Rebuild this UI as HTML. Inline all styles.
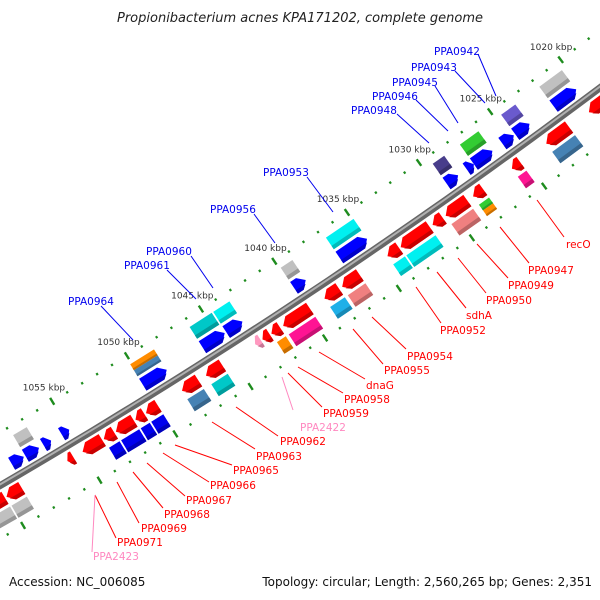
<!DOCTYPE html>
<html><head><meta charset="utf-8"><style>
html,body{margin:0;padding:0;background:#fff}
svg{display:block;font-family:"DejaVu Sans","Liberation Sans",sans-serif}
</style></head><body>
<svg id="map" width="600" height="600" viewBox="0 0 600 600" xmlns="http://www.w3.org/2000/svg">
<text x="300" y="22" text-anchor="middle" font-size="13" font-style="italic" fill="#222">Propionibacterium acnes KPA171202, complete genome</text>
<g id="plot"></g>
<text x="9" y="586" font-size="12" fill="#111">Accession: NC_006085</text>
<text x="592" y="586" font-size="12" fill="#111" text-anchor="end">Topology: circular; Length: 2,560,265 bp; Genes: 2,351</text>
</svg>
<script>
// ---- data ----
const fwdStarts = [1020.3,1023.6,1024.7,1026.2,1027.5,1028.6,1034.9,1039.1,1043.4,1044.6,1048.5,1055.0,1056.2,1057.0,1058.0];
const fwdEnds   = [1021.9,1024.6,1025.5,1027.5,1028.0,1029.4,1036.8,1039.9,1044.5,1046.1,1050.1,1055.5,1056.7,1057.9,1058.8];
const fwdCogs   = ['gray','purple','','green','','slate','cyan','gray','cyan','cyan2','orange/steel','','','gray',''];
const revStarts = [1019.0,1021.9,1025.3,1027.9,1029.0,1030.7,1031.6,1033.7,1036.4,1037.8,1039.8,1041.8,1042.5,1043.1,1045.7,1047.3,1050.0,1050.9,1051.6,1052.9,1053.7,1055.6,1059.0,1060.1];
const revEnds   = [1020.5,1023.5,1025.9,1028.6,1030.5,1031.4,1033.6,1034.5,1037.6,1038.8,1041.6,1042.4,1043.0,1043.5,1046.8,1048.4,1050.8,1051.5,1052.8,1053.6,1055.0,1056.0,1060.0,1061.2];
const revCogs   = ['','steel','magenta','green/orange','salmon','','cyan','cyan','salmon','sky','magenta','orange','','','cyan2','steel','blue','blue','blue','blue','','','gray','gray'];
const revPseudo = [13];
const tickStart = 1016, tickEnd = 1063;
const tickLabels = [1020,1025,1030,1035,1040,1045,1050,1055];

const cogColor = {gray:'#c0c0c0',purple:'#6a5acd',green:'#33cc33',slate:'#483d8b',cyan:'#00f0f0',cyan2:'#00c8c8',
  orange:'#ff8c00',steel:'#4682b4',magenta:'#ff1493',salmon:'#f08080',sky:'#1fb0e8',blue:'#0000ee'};

// ---- geometry ----
const CX=-3076, CY=-4804, R0=6119, PHI0=54.04, DEG_PER_KBP=0.1652;
function P(k,off){const f=(PHI0+(k-1025)*DEG_PER_KBP)*Math.PI/180;const r=R0+off;return [CX+r*Math.cos(f),CY+r*Math.sin(f)];}
const NS='http://www.w3.org/2000/svg';
const plot=document.getElementById('plot');
function mk(tag,attrs,parent){const e=document.createElementNS(NS,tag);for(const a in attrs)e.setAttribute(a,attrs[a]);(parent||plot).appendChild(e);return e;}
function pts(a){return a.map(p=>p[0].toFixed(1)+','+p[1].toFixed(1)).join(' ');}
function shade(hex,f){const n=parseInt(hex.slice(1),16);let r=n>>16,g=(n>>8)&255,b=n&255;
  r=Math.round(Math.min(255,r*f));g=Math.round(Math.min(255,g*f));b=Math.round(Math.min(255,b*f));return `rgb(${r},${g},${b})`;}

// ticks
const tickG=mk('g',{});


for(let k=tickStart;k<=tickEnd;k++){
  for(const off of [-46,46]){
    if(k%5===0){const a=P(k,off-4),b=P(k,off+4);
      const l=mk('line',{x1:a[0],y1:a[1],x2:b[0],y2:b[1],stroke:'#1e8c1e','stroke-width':2.4},tickG);
      
      
    }else{const a=P(k,off-1.2),b=P(k,off+1.2);
      const l=mk('line',{x1:a[0],y1:a[1],x2:b[0],y2:b[1],stroke:'#1e8c1e','stroke-width':2.2},tickG);
      
      }
  }
}
tickLabels.forEach(k=>{const p=P(k,-62);
  const t=mk('text',{x:p[0],y:p[1]+3,'text-anchor':'middle','font-size':9,fill:'#333'});
  t.textContent=k+' kbp';
  
  });

// backbone
(function(){const d=[];for(let k=1010;k<=1068;k+=1){d.push(P(k,0));}
  const a=mk('polyline',{points:pts(d),fill:'none',stroke:'#666','stroke-width':7});
  
  
  const d2=[];for(let k=1010;k<=1068;k+=1){d2.push(P(k,-1));}
  const b=mk('polyline',{points:pts(d2),fill:'none',stroke:'#b0b0b0','stroke-width':2});
  
  })();

const H=14;
function box(s,e,off,h,color,name){
  const poly=[P(s,off-h/2),P(e,off-h/2),P(e,off+h/2),P(s,off+h/2)];
  const g=mk('polygon',{points:pts(poly),fill:color});
  
  
  const sh=Math.min(4,h*0.3);
  const st=[P(s,off+h/2-sh),P(e,off+h/2-sh),P(e,off+h/2),P(s,off+h/2)];
  const g2=mk('polygon',{points:pts(st),fill:shade(color,0.78)});
  
  
}
function arrow(s,e,off,h,dir,color,name){
  const a=Math.min(0.4,(e-s)*0.6);let poly;
  if(dir>0) poly=[P(s,off),P(s+a,off-h/2),P(e,off-h/2),P(e,off+h/2),P(s+a,off+h/2)];
  else poly=[P(e,off),P(e-a,off-h/2),P(s,off-h/2),P(s,off+h/2),P(e-a,off+h/2)];
  const g=mk('polygon',{points:pts(poly),fill:color});
  
  
  let st;
  if(dir>0) st=[P(s+a*0.3,off+h/2-4),P(e,off+h/2-4),P(e,off+h/2),P(s+a,off+h/2)];
  else st=[P(e-a*0.3,off+h/2-4),P(s,off+h/2-4),P(s,off+h/2),P(e-a,off+h/2)];
  const g2=mk('polygon',{points:pts(st),fill:shade(color,0.78)});
  
  
}
function cog(s,e,off,c,name){
  if(!c)return;
  const parts=c.split('/');
  if(parts.length===1){box(s,e,off,H,cogColor[c],name);return;}
  box(s,e,off-3.5,7,cogColor[parts[0]],name+'-a');
  box(s,e,off+3.5,7,cogColor[parts[1]],name+'-b');
}
fwdStarts.forEach((s,i)=>{
  arrow(s,fwdEnds[i],-13,H,1,'#0000ff','forward-gene');
  cog(s,fwdEnds[i],-30,fwdCogs[i],'forward-cog-box');
});
revStarts.forEach((s,i)=>{
  const col=revPseudo.includes(i)?'#ff99c0':'#ff0000';
  arrow(s,revEnds[i],13,H,-1,col,'reverse-gene');
  cog(s,revEnds[i],30,revCogs[i],'reverse-cog-box');
});

// ---- labels ----
const labText=['PPA0942','PPA0943','PPA0945','PPA0946','PPA0948','PPA0953','PPA0956','PPA0960','PPA0961','PPA0964',
 'recO','PPA0947','PPA0949','PPA0950','sdhA','PPA0952','PPA0954','PPA0955','dnaG','PPA0958','PPA0959','PPA2422','PPA0962','PPA0963','PPA0965','PPA0966','PPA0967','PPA0968','PPA0969','PPA0971','PPA2423'];
const labX=[434,411,392,372,351,263,210,146,124,68, 566,528,508,486,466,440,407,384,366,344,323,300,280,256,233,210,186,164,141,117,93];
const labY=[51,67,82,96,110,172,209,251,265,301, 244,270,285,300,315,330,356,370,385,399,413,427,441,456,470,485,500,514,528,542,556];
const labL=[[478,54,496,96],[455,71,485,103],[435,86,458,123],[416,100,448,131],[397,114,429,143],[307,177,333,212],[254,214,275,243],[191,256,213,288],[167,270,196,299],[101,306,133,340],
 [564,237,537,200],[529,263,500,227],[508,278,477,244],[486,293,458,258],[466,308,437,272],[441,323,416,287],[406,349,372,317],[383,364,353,329],[365,379,319,352],[343,393,298,367],[322,407,288,373],[293,410,282,377],[278,436,236,407],[255,449,212,422],[232,465,175,445],[209,482,163,453],[185,496,147,463],[163,508,133,472],[139,523,117,482],[116,538,95,495],[92,552,95,495]];
const labCol=['b','b','b','b','b','b','b','b','b','b','r','r','r','r','r','r','r','r','r','r','r','p','r','r','r','r','r','r','r','r','p'];
const colMap={b:'#0000ee',r:'#ff0000',p:'#ff88c0'};
labText.forEach((t,i)=>{
  const L=labL[i],c=colMap[labCol[i]];
  const ln=mk('line',{x1:L[0],y1:L[1],x2:L[2],y2:L[3],stroke:c,'stroke-width':1});
  
  
  const tx=mk('text',{x:labX[i],y:labY[i]+4,'font-size':10.5,fill:c});
  tx.textContent=t;
  
  
});
</script>
</body></html>
